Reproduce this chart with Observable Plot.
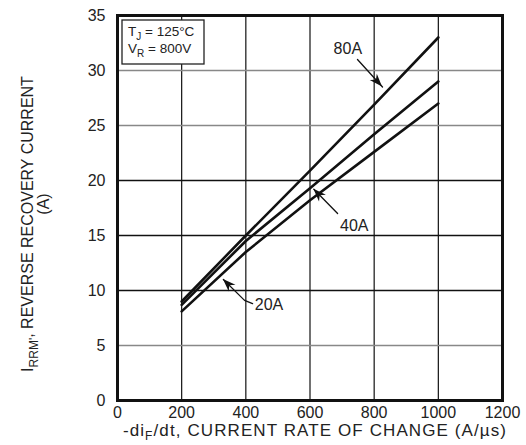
<!DOCTYPE html>
<html><head><meta charset="utf-8">
<script src="https://cdn.jsdelivr.net/npm/d3@7"></script>
<script src="https://cdn.jsdelivr.net/npm/@observablehq/plot@0.6"></script>
<style>
  html,body{margin:0;padding:0;background:#fff}
  svg{font-family:"Liberation Sans",Arial,Helvetica,sans-serif}
</style>
</head><body><div id="chart"></div>
<script>
// ---- data ----
const rates = [200, 400, 600, 800, 1000];          // -diF/dt (A/µs)
const i80A  = [9.0, 15.0, 20.9, 26.9, 33.0];       // IRRM (A) at IF = 80A
const i40A  = [8.7, 14.5, 19.3, 24.2, 29.0];       // IF = 40A
const i20A  = [8.1, 13.5, 18.2, 22.6, 27.0];       // IF = 20A
const seriesNames = ["80A", "40A", "20A"];
const xTicks = [0, 200, 400, 600, 800, 1000, 1200];
const yTicks = [0, 5, 10, 15, 20, 25, 30, 35];
const conditions = ["125°C", "800V"];

// annotation callouts (data coordinates): text anchor and leader line (tip first)
const callouts = [
  {label: "80A", tx: 718, ty: 32.0, start: false, path: [[826, 28.5], [748, 31.0]]},
  {label: "40A", tx: 738, ty: 15.9, start: false, path: [[612, 19.2], [686, 17.0]]},
  {label: "20A", tx: 428, ty: 8.7,  start: true,  path: [[330, 11.0], [396, 9.1], [421, 8.8]]}
];

// ---- tables built from the arrays ----
const seriesValues = [i80A, i40A, i20A];
const rows = seriesNames.flatMap((s, k) => rates.map((r, j) => ({series: s, rate: r, current: seriesValues[k][j]})));
const leaderRows = callouts.flatMap(c => c.path.map(([x, y]) => ({id: c.label, x, y})));
const grayRows = new Set([5, 25, 30]);

const plot = Plot.plot({
  width: 526,
  height: 445,
  marginLeft: 117,
  marginRight: 24,
  marginTop: 15,
  marginBottom: 45,
  style: {fontFamily: "'Liberation Sans', Arial, Helvetica, sans-serif", fontSize: "16px", color: "#222", background: "#fff", overflow: "visible"},
  x: {domain: [0, 1200], ticks: xTicks, tickFormat: d => String(d), label: null, tickSize: 0, tickPadding: 6},
  y: {domain: [0, 35], ticks: yTicks, tickFormat: d => String(d), label: null, tickSize: 0, tickPadding: 12},
  marks: [
    Plot.ruleX(xTicks.slice(1, -1), {stroke: "#111", strokeWidth: 1.2}),
    Plot.ruleY(yTicks.slice(1, -1).filter(v => !grayRows.has(v)), {stroke: "#111", strokeWidth: 1.3}),
    Plot.ruleY(yTicks.slice(1, -1).filter(v => grayRows.has(v)), {stroke: "#888", strokeWidth: 1.5}),
    Plot.line(rows, {x: "rate", y: "current", z: "series", stroke: "#111", strokeWidth: 2.6}),
    Plot.line(leaderRows, {x: "x", y: "y", z: "id", stroke: "#111", strokeWidth: 1.3}),
    Plot.text(callouts.filter(c => !c.start), {x: "tx", y: "ty", text: "label", textAnchor: "middle", fontSize: 16, fill: "#222"}),
    Plot.text(callouts.filter(c => c.start), {x: "tx", y: "ty", text: "label", textAnchor: "start", fontSize: 16, fill: "#222"}),
    Plot.frame({stroke: "#111", strokeWidth: 3})
  ]
});

document.getElementById("chart").appendChild(plot);

// ---- arrowheads, titles and conditions box ----
const svg = d3.select(plot);
const sx = plot.scale("x"), sy = plot.scale("y");
callouts.forEach(c => {
  const [tx, ty] = c.path[0], [bx, by] = c.path[1];
  const px = sx.apply(tx), py = sy.apply(ty);
  const qx = sx.apply(bx), qy = sy.apply(by);
  const d = Math.hypot(qx - px, qy - py), ux = (qx - px) / d, uy = (qy - py) / d;
  const L = 13, W = 4.8;
  const p1 = [px + L * ux - W * uy, py + L * uy + W * ux];
  const p2 = [px + L * ux + W * uy, py + L * uy - W * ux];
  const p3 = [px + (L - 4) * ux, py + (L - 4) * uy];
  svg.append("path")
    .attr("d", `M${px},${py}L${p1[0]},${p1[1]}L${p3[0]},${p3[1]}L${p2[0]},${p2[1]}Z`)
    .attr("fill", "#111");
});

// y-axis title
const yt = svg.append("text")
  .attr("transform", "translate(33,224) rotate(-90)")
  .attr("text-anchor", "middle").attr("font-size", 16).attr("fill", "#222");
yt.append("tspan").text("I");
yt.append("tspan").attr("dy", 5).attr("font-size", 12).text("RRM'");
yt.append("tspan").attr("dy", -5).text(", REVERSE RECOVERY CURRENT");
svg.append("text")
  .attr("transform", "translate(49,204) rotate(-90)")
  .attr("text-anchor", "middle").attr("font-size", 16).attr("fill", "#222")
  .text("(A)");

// x-axis title
const xt = svg.append("text")
  .attr("x", 315).attr("y", 436)
  .attr("text-anchor", "middle").attr("font-size", 17).attr("letter-spacing", 1.1).attr("fill", "#222");
xt.append("tspan").text("-di");
xt.append("tspan").attr("dy", 4).attr("font-size", 12).text("F");
xt.append("tspan").attr("dy", -4).text("/dt, CURRENT RATE OF CHANGE (A/µs)");

// conditions box
svg.append("rect").attr("x", 122).attr("y", 20).attr("width", 82).attr("height", 44)
  .attr("fill", "#fff").attr("stroke", "#222").attr("stroke-width", 1.3);
const c1 = svg.append("text").attr("x", 128).attr("y", 36).attr("text-anchor", "start").attr("font-size", 13.5).attr("fill", "#222");
c1.append("tspan").text("T");
c1.append("tspan").attr("dy", 4).attr("font-size", 10).text("J");
c1.append("tspan").attr("dy", -4).text(" = " + conditions[0]);
const c2 = svg.append("text").attr("x", 128).attr("y", 53).attr("text-anchor", "start").attr("font-size", 13.5).attr("fill", "#222");
c2.append("tspan").text("V");
c2.append("tspan").attr("dy", 4).attr("font-size", 10).text("R");
c2.append("tspan").attr("dy", -4).text(" = " + conditions[1]);
</script>
</body></html>
